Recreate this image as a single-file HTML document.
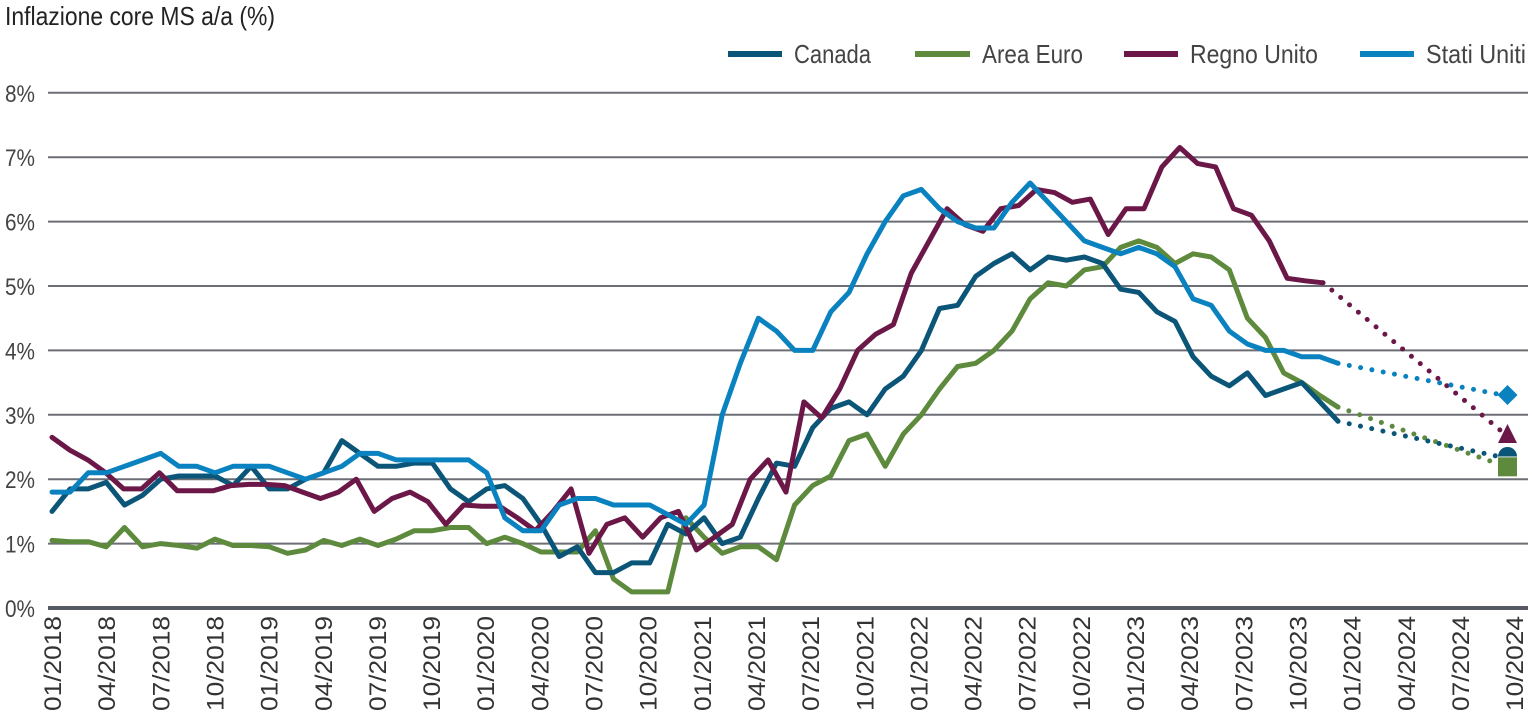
<!DOCTYPE html>
<html><head><meta charset="utf-8"><style>
html,body{margin:0;padding:0;background:#fff;}
svg{display:block;font-family:"Liberation Sans",sans-serif;}
</style></head><body>
<svg id="s" width="1532" height="720" xmlns="http://www.w3.org/2000/svg">
<text x="5" y="25" font-size="26" fill="#222" textLength="270" lengthAdjust="spacingAndGlyphs">Inflazione core MS a/a (%)</text>
<g id="grid"></g>
<g id="lines"></g>
<g font-size="26" fill="#444">
<line x1="728" y1="54" x2="782" y2="54" stroke="#0b5578" stroke-width="6"/><text x="794" y="63" textLength="77" lengthAdjust="spacingAndGlyphs">Canada</text>
<line x1="915" y1="54" x2="970" y2="54" stroke="#5d8a3c" stroke-width="6"/><text x="982" y="63" textLength="101" lengthAdjust="spacingAndGlyphs">Area Euro</text>
<line x1="1124" y1="54" x2="1178" y2="54" stroke="#6b1747" stroke-width="6"/><text x="1190" y="63" textLength="128" lengthAdjust="spacingAndGlyphs">Regno Unito</text>
<line x1="1360" y1="54" x2="1414" y2="54" stroke="#0a82c0" stroke-width="6"/><text x="1426" y="63" textLength="100" lengthAdjust="spacingAndGlyphs">Stati Uniti</text>
</g>
</svg>
<script>
var NS="http://www.w3.org/2000/svg";
function el(t,a,p){var e=document.createElementNS(NS,t);for(var k in a)e.setAttribute(k,a[k]);(p||document.getElementById('lines')).appendChild(e);return e;}
var g=document.getElementById('grid');
function Y(v){return 608-64.4*v;}
for(var v=0;v<=8;v++){
 el('line',{x1:48,x2:1528,y1:Y(v),y2:Y(v),stroke:v==0?'#555a63':'#6b6e75','stroke-width':v==0?4:2},g);
 var t=el('text',{x:5,y:Y(v)+9,'font-size':24,fill:'#444',textLength:30,lengthAdjust:'spacingAndGlyphs'},g);t.textContent=v+'%';
}
var labs=[];
for(var y=2018;y<=2024;y++)for(var m of ['01','04','07','10'])labs.push(m+'/'+y);
labs.forEach(function(l,k){var x=52+18.05*3*k+9;
 var t=el('text',{x:x,y:616,'font-size':24,fill:'#333','text-anchor':'end',textLength:95,lengthAdjust:'spacingAndGlyphs',transform:'rotate(-90 '+x+' 616)'},g);t.textContent=l;});
var CA=[1.5,1.85,1.85,1.95,1.6,1.75,2.0,2.05,2.05,2.05,1.9,2.2,
1.85,1.85,2.0,2.1,2.6,2.4,2.2,2.2,2.25,2.25,1.85,1.65,
1.85,1.9,1.7,1.3,0.8,0.95,0.55,0.55,0.7,0.7,1.3,1.15,
1.4,1.0,1.1,1.7,2.25,2.2,2.8,3.1,3.2,3.0,3.4,3.6,
4.0,4.65,4.7,5.15,5.35,5.5,5.25,5.45,5.4,5.45,5.35,4.95,
4.9,4.6,4.45,3.9,3.6,3.45,3.65,3.3,3.4,3.5,3.2,2.9];
var EU=[1.05,1.03,1.03,0.95,1.25,0.95,1.0,0.97,0.93,1.07,0.97,0.97,
0.95,0.85,0.9,1.05,0.97,1.07,0.97,1.07,1.2,1.2,1.25,1.25,
1.0,1.1,1.0,0.87,0.87,0.87,1.2,0.45,0.25,0.25,0.25,
1.4,1.1,0.85,0.95,0.95,0.75,1.6,1.9,2.05,2.6,2.7,
2.2,2.7,3.0,3.4,3.75,3.8,4.0,4.3,4.8,5.05,5.0,5.25,
5.3,5.6,5.7,5.6,5.35,5.5,5.45,5.25,4.5,4.2,3.65,3.5,3.3,3.12];
var UK=[2.65,2.45,2.3,2.1,1.85,1.85,2.1,1.82,1.82,1.82,1.9,
1.92,1.92,1.9,1.8,1.7,1.8,2.0,1.5,1.7,1.8,1.65,1.3,
1.6,1.58,1.58,1.4,1.2,1.5,1.85,0.85,1.3,1.4,1.1,1.4,
1.5,0.9,1.1,1.3,2.0,2.3,1.8,3.2,2.95,3.4,4.0,4.25,
4.4,5.2,5.7,6.2,5.95,5.85,6.2,6.25,6.5,6.45,6.3,6.35,
5.8,6.2,6.2,6.85,7.15,6.9,6.85,6.2,6.1,5.7,5.12,5.08,5.05];
var US=[1.8,1.8,2.1,2.1,2.2,2.3,2.4,2.2,2.2,2.1,2.2,2.2,2.2,2.1,2.0,2.1,2.2,2.4,2.4,2.3,2.3,2.3,2.3,2.3,2.1,1.4,1.2,1.2,1.6,1.7,1.7,1.6,1.6,1.6,1.45,1.3,1.6,3.0,3.8,4.5,4.3,4.0,4.0,4.6,4.9,5.5,6.0,6.4,6.5,6.2,6.0,5.9,5.9,6.3,6.6,6.3,6.0,5.7,5.6,5.5,5.6,5.5,5.3,4.8,4.7,4.3,4.1,4.0,4.0,3.9,3.9,3.8];
function series(d,xe,c,end){
 var n=d.length,p=[];
 for(var i=0;i<n;i++)p.push((52+(xe-52)*i/(n-1)).toFixed(1)+','+Y(d[i]).toFixed(1));
 el('polyline',{points:p.join(' '),fill:'none',stroke:c,'stroke-width':5,'stroke-linejoin':'round','stroke-linecap':'round'});
 el('line',{x1:xe,y1:Y(d[n-1]),x2:1505,y2:Y(end),stroke:c,'stroke-width':5,'stroke-linecap':'round','stroke-dasharray':'0 11.5'});
}
series(EU,1338,'#5d8a3c',2.2);
series(CA,1338,'#0b5578',2.33);
series(UK,1323,'#6b1747',2.7);
series(US,1338,'#0a82c0',3.3);
el('rect',{x:1498,y:Y(2.2)-9,width:19,height:19,fill:'#5d8a3c'});
el('path',{d:'M1507.5,'+(Y(2.33)-11)+' a9.5,9.5 0 0 1 9.5,9.5 h-19 a9.5,9.5 0 0 1 9.5,-9.5z',fill:'#0b5578'});
el('polygon',{points:'1507.5,424 1498,443 1517,443',fill:'#6b1747'});
el('polygon',{points:'1507.5,385 1517.5,395 1507.5,405 1497.5,395',fill:'#0a82c0'});
</script>
</body></html>
